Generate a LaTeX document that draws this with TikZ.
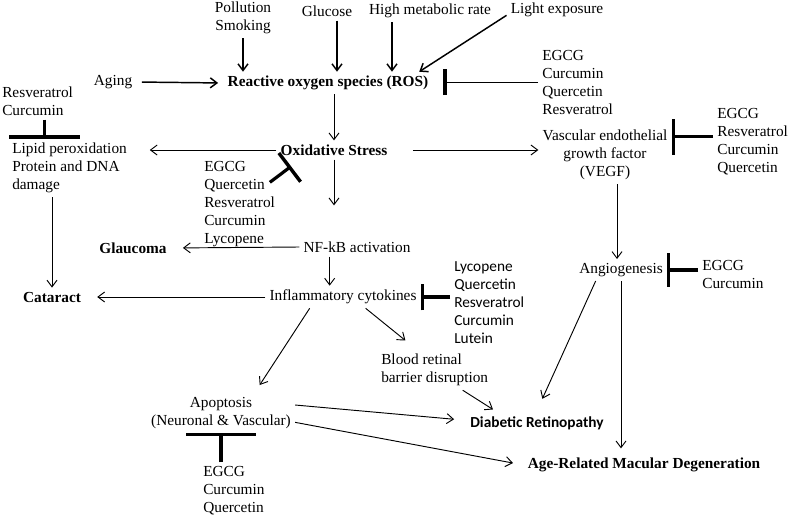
\documentclass[tikz,border=0pt]{standalone}
\usepackage{fontspec}
\setmainfont{Liberation Serif}
\newfontfamily\calibrifont{Carlito}
\usetikzlibrary{arrows.meta}
\newcommand{\labelsize}{\fontsize{11.5pt}{13.5pt}\selectfont}
\tikzset{
  risk-path/.style={line width=1.1pt, ->},
  effect-path/.style={line width=0.7pt, ->},
  block-path/.style={line width=2.4pt, -{Bar[width=#1, line width=2.6pt]}},
  drug-list/.style={anchor=west, align=left},
  disease-name/.style={font=\labelsize\bfseries},
}
\begin{document}
\begin{tikzpicture}[x=0.75pt, y=-0.75pt, >={Straight Barb[length=5pt, width=7.5pt]},
  every node/.style={font=\labelsize, inner sep=3pt}]
\useasboundingbox (0, 0) rectangle (789, 518);
% risk factors
\node[align=center] at (243, 18) (pollution) {Pollution\\Smoking};
\node at (327, 11) (glucose) {Glucose};
\node at (430, 11) (metabolic) {High metabolic rate};
\node at (557, 10) (light) {Light exposure};
\node at (113, 82) (aging) {Aging};
\node[disease-name] at (328, 83) (ros) {Reactive oxygen species (ROS)};
\node[drug-list] at (538, 82) (drugsRos) {EGCG\\Curcumin\\Quercetin\\Resveratrol};
% oxidative stress
\node[drug-list] at (-2, 101) (drugsLipid) {Resveratrol\\Curcumin};
\node[drug-list] at (8, 168) (lipid) {Lipid peroxidation\\Protein and DNA\\damage};
\node[disease-name] at (334, 150) (oxstress) {Oxidative Stress};
\node[align=center] at (605, 155) (vegf) {Vascular endothelial\\growth factor\\(VEGF)};
\node[drug-list] at (713, 142) (drugsVegf) {EGCG\\Resveratrol\\Curcumin\\Quercetin};
\node[drug-list] at (200, 204) (drugsOx) {EGCG\\Quercetin\\Resveratrol\\Curcumin\\Lycopene};
% inflammation
\node at (357, 247) (nfkb) {NF-kB activation};
\node[disease-name] at (133, 248) (glaucoma) {Glaucoma};
\node at (343, 297) (cytokines) {Inflammatory cytokines};
\node[disease-name] at (52, 297) (cataract) {Cataract};
\node[drug-list, font=\calibrifont\labelsize] at (450, 303) (drugsCyto) {Lycopene\\Quercetin\\Resveratrol\\Curcumin\\Lutein};
\node[drug-list] at (377, 370) (brb) {Blood retinal\\barrier disruption};
\node[align=center] at (221, 413) (apoptosis) {Apoptosis\\(Neuronal \& Vascular)};
\node[drug-list] at (199, 491) (drugsApop) {EGCG\\Curcumin\\Quercetin};
% angiogenesis
\node at (621, 270) (angio) {Angiogenesis};
\node[drug-list] at (698, 274) (drugsAngio) {EGCG\\Curcumin};
\node[disease-name, font=\calibrifont\labelsize\bfseries] at (537, 423) (dr) {Diabetic Retinopathy};
\node[disease-name] at (644, 465) (amd) {Age-Related Macular Degeneration};

\draw[risk-path] (pollution.south) -- (pollution.south |- ros.north);
\draw[risk-path] ([xshift=7.5pt]glucose.south) -- ([xshift=7.5pt]glucose.south |- ros.north);
\draw[risk-path] ([xshift=-28.5pt]metabolic.south) -- ([xshift=-28.5pt]metabolic.south |- ros.north);
\draw[risk-path] ([yshift=-4pt]light.west) -- ([xshift=-10pt]ros.north east);
\draw[risk-path, shorten <=4pt, shorten >=4pt] (aging.east) -- (ros.west);
\draw[block-path=19.5pt, line width=0.7pt, shorten >=8pt] (drugsRos.west) -- (drugsRos.west -| ros.east);

\draw[effect-path] (oxstress.north |- ros.south) -- (oxstress.north);
\draw[effect-path, shorten >=14pt] (oxstress.west) -- (oxstress.west -| lipid.east);
\draw[block-path=53pt] ([xshift=5pt]drugsLipid.south) -- ([xshift=5pt]drugsLipid.south |- lipid.north);
\draw[effect-path, shorten <=16pt] (oxstress.east) -- (oxstress.east -| vegf.west);
\draw[block-path=27pt] ([yshift=4pt]drugsVegf.west) -- ([yshift=4pt]drugsVegf.west -| vegf.east);
\draw[block-path=27pt] ([shift={(-7pt,-19pt)}]drugsOx.north east) -- ([shift={(11pt,-5pt)}]oxstress.south west);
\draw[effect-path, shorten >=24pt] (oxstress.south) -- (oxstress.south |- nfkb.north);

\draw[effect-path, shorten >=9pt] (nfkb.west) -- (glaucoma.east);
\draw[effect-path] ([xshift=-10pt]cytokines.north |- nfkb.south) -- ([xshift=-10pt]cytokines.north);
\draw[effect-path, shorten >=9pt] (cytokines.west) -- (cataract.east);
\draw[effect-path] (cataract.north |- lipid.south) -- (cataract.north);
\draw[block-path=20pt] (cytokines.east -| drugsCyto.west) -- (cytokines.east);
\draw[effect-path] ([xshift=17pt]cytokines.south) -- ([shift={(-22pt,7pt)}]brb.north);
\draw[effect-path] ([xshift=-25pt]cytokines.south) -- ([shift={(29pt,6pt)}]apoptosis.north);
\draw[effect-path] ([xshift=21pt]brb.south) -- ([shift={(-33pt,2pt)}]dr.north);
\draw[effect-path, shorten >=9pt] ([yshift=6pt]apoptosis.east) -- ([yshift=2pt]dr.west);
\draw[effect-path, shorten >=8pt] ([yshift=-7pt]apoptosis.east) -- (amd.west);
\draw[block-path=52pt] (apoptosis.south |- drugsApop.north) -- (apoptosis.south);

\draw[effect-path] ([xshift=-3pt]angio.north |- vegf.south) -- ([xshift=-3pt]angio.north);
\draw[block-path=25pt] (angio.east -| drugsAngio.west) -- (angio.east);
\draw[effect-path] ([xshift=-19pt]angio.south) -- ([shift={(4pt,10pt)}]dr.north);
\draw[effect-path, shorten >=4pt] (angio.south) -- (angio.south |- amd.north);
\end{tikzpicture}
\end{document}
